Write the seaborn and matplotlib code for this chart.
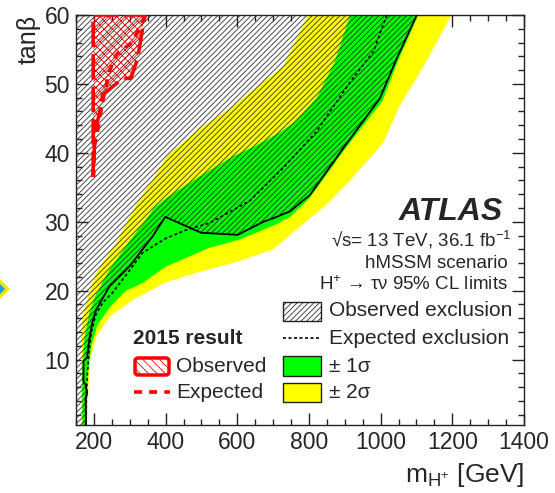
import matplotlib
matplotlib.use('Agg')
import matplotlib.pyplot as plt
from matplotlib.patches import Polygon, Rectangle, FancyBboxPatch
from matplotlib.lines import Line2D
from matplotlib.ticker import MultipleLocator
import seaborn as sns

# Observed exclusion contour (m_H+ [GeV], tanb)
obs_mass = [178, 177, 181, 177, 171, 171, 181, 187, 196, 206, 243, 299, 364, 399,
            499, 601, 673, 700, 747, 803, 896, 998, 1045, 1101]
obs_tanb = [0.5, 4.2, 5.2, 6.3, 6.8, 9.8, 10.3, 12.9, 15.5, 17.2, 20.6, 23.5, 27.9, 30.7,
            28.4, 28.1, 30.0, 30.5, 31.5, 33.9, 40.7, 47.9, 53.7, 60]

# Expected exclusion contour
exp_mass = [177, 179, 182, 186, 193, 205, 225, 252, 300, 336, 401, 457, 522, 634,
            728, 821, 915, 980, 1017]
exp_tanb = [0.5, 5, 8, 11, 14, 16.5, 18.3, 19.7, 23, 25.5, 27.6, 28.8, 29.8, 33,
            37.8, 43.1, 50.3, 54.7, 60]

# +-1 sigma band edges (low-mass edge bottom->top, high-mass edge top->bottom)
green_left_mass = [168, 167, 173, 187, 206, 243, 290, 350, 368, 403, 496, 588, 650, 720, 760, 822, 870, 915]
green_left_tanb = [0.5, 8, 12.9, 16.8, 19.5, 23, 26.5, 30.7, 32, 33.5, 36.6, 39.5, 41, 43, 44.5, 48, 53, 60]
green_right_mass = [1105, 1050, 1005, 900, 800, 750, 708, 606, 522, 401, 336, 290, 243, 210, 193, 183, 179, 178]
green_right_tanb = [60, 53.5, 47.5, 40.5, 33.3, 30.8, 29.6, 27.4, 26.2, 23.5, 21.1, 20, 17.5, 15, 12, 8, 4, 0.5]

# +-2 sigma band edges
yellow_left_mass = [165, 165, 167, 169, 187, 206, 243, 263, 292, 330, 375, 403, 496, 589, 663, 728, 798]
yellow_left_tanb = [0.5, 8, 13, 16.3, 19.7, 22.5, 25.5, 27, 30, 33.5, 37, 39.5, 43.5, 46.8, 49.9, 52.5, 60]
yellow_right_mass = [1198, 1119, 1050, 1008, 915, 850, 775, 700, 600, 500, 400, 310, 245, 208, 189, 184, 182]
yellow_right_tanb = [60, 52.5, 46.5, 41.5, 36, 32.5, 29.3, 26, 24.2, 22.8, 21.2, 18.7, 16.3, 13.4, 10, 5, 0.5]

# 2015 result
red_obs_mass = [198, 198, 342, 322, 303, 280, 224, 215, 206, 201, 199]
red_obs_tanb = [36.5, 60, 60, 53.7, 50.8, 50.8, 48.4, 45.5, 44, 40.7, 36.5]
red_exp_mass = [198, 200, 210, 224, 243, 262, 308, 345]
red_exp_tanb = [36.5, 40.7, 43.1, 47.4, 51.8, 54.2, 56.1, 60]

x_ticks = [200, 400, 600, 800, 1000, 1200, 1400]
y_ticks = [10, 20, 30, 40, 50, 60]

W, H = 555, 493

sns.set_theme(style='ticks')
plt.rcParams['font.family'] = ['Liberation Sans', 'DejaVu Sans']
plt.rcParams['mathtext.fontset'] = 'custom'
plt.rcParams['mathtext.rm'] = 'Liberation Sans'
plt.rcParams['mathtext.it'] = 'Liberation Sans:italic'
plt.rcParams['hatch.linewidth'] = 0.6


def fig_xy(px, py):
    return px / W, 1 - py / H


fig = plt.figure(figsize=(W / 100, H / 100), dpi=100)
ax = fig.add_axes([76 / W, 1 - 425 / H, (524 - 76) / W, (425 - 15) / H])

# bands
ax.fill(yellow_left_mass + yellow_right_mass, yellow_left_tanb + yellow_right_tanb,
        color='#ffff00', lw=0, zorder=1)
ax.fill(green_left_mass + green_right_mass, green_left_tanb + green_right_tanb,
        color='#00ff00', lw=0, zorder=2)

# observed exclusion hatch
ax.fill([150] + obs_mass + [150], [0.5] + obs_tanb + [60],
        facecolor='none', edgecolor='#303030', hatch='//////', lw=0, zorder=3)

sns.lineplot(x=obs_mass, y=obs_tanb, sort=False, estimator=None, color='black',
             linewidth=1.3, ax=ax, zorder=5)
sns.lineplot(x=exp_mass, y=exp_tanb, sort=False, estimator=None, color='black',
             linewidth=1.2, linestyle=(0, (1.8, 1.5)), ax=ax, zorder=5)

# 2015 result
ax.fill(red_obs_mass, red_obs_tanb, facecolor='none', edgecolor='red', hatch='xxxx',
        lw=0, zorder=6)
sns.lineplot(x=red_obs_mass, y=red_obs_tanb, sort=False, estimator=None, color='red',
             linewidth=2.6, linestyle=(0, (7, 2)), ax=ax, zorder=7)
sns.lineplot(x=red_exp_mass, y=red_exp_tanb, sort=False, estimator=None, color='red',
             linewidth=2.6, linestyle=(0, (2.2, 2)), ax=ax, zorder=7)

ax.set_xlim(150, 1400)
ax.set_ylim(0.5, 60)
ax.set_xticks(x_ticks)
ax.set_yticks(y_ticks)
ax.xaxis.set_minor_locator(MultipleLocator(50))
ax.yaxis.set_minor_locator(MultipleLocator(2))
ax.tick_params(which='both', direction='in', top=True, right=True, color='#222222',
               width=1, pad=4.3, labelsize=16.5)
ax.tick_params(which='major', length=8.5)
ax.tick_params(which='minor', length=4.5)
for sp in ax.spines.values():
    sp.set_color('#222222')
    sp.set_linewidth(1)

ax.set_xlabel(r'm$_{\rm H^{+}}$ [GeV]', loc='right', fontsize=19, labelpad=5)
ax.set_ylabel('tanβ', loc='top', fontsize=18, labelpad=3)

# text block
fig.text(*fig_xy(503, 212), 'ATLAS', ha='right', va='center', fontsize=23,
         fontweight='bold', fontstyle='italic')
fig.text(*fig_xy(512, 240), r'√s= 13 TeV, 36.1 fb$^{-1}$', ha='right', va='center', fontsize=13.5)
fig.text(*fig_xy(508, 263), 'hMSSM scenario', ha='right', va='center', fontsize=13.5)
fig.text(*fig_xy(508, 285), r'H$^{+}$ → τν 95% CL limits', ha='right', va='center', fontsize=13.5)


def px_rect(x0, y0, x1, y1, **kw):
    fx0, fy1 = fig_xy(x0, y1)
    return Rectangle((fx0, fy1), (x1 - x0) / W, (y1 - y0) / H, transform=fig.transFigure, **kw)


# right legend
fig.add_artist(px_rect(283, 302, 321, 321, facecolor='white', edgecolor='#303030', hatch='//////', lw=0))
fig.add_artist(px_rect(283, 302, 321, 321, facecolor='none', edgecolor='#222222', lw=1))
fig.add_artist(Line2D([283 / W, 321 / W], [1 - 338 / H] * 2, transform=fig.transFigure,
                      color='black', lw=1.2, linestyle=(0, (1.8, 1.5))))
fig.add_artist(px_rect(283, 356, 321, 376, facecolor='#00ff00', edgecolor='#222222', lw=1))
fig.add_artist(px_rect(283, 383, 321, 402, facecolor='#ffff00', edgecolor='#222222', lw=1))
leg_font = 15
fig.text(*fig_xy(329, 311), 'Observed exclusion', va='center', fontsize=leg_font)
fig.text(*fig_xy(329, 338), 'Expected exclusion', va='center', fontsize=leg_font)
fig.text(*fig_xy(329, 366), '± 1σ', va='center', fontsize=leg_font)
fig.text(*fig_xy(329, 393), '± 2σ', va='center', fontsize=leg_font)

# left legend (2015)
fig.text(*fig_xy(133, 338), '2015 result', va='center', fontsize=leg_font, fontweight='bold')
fx0, fy0 = fig_xy(135, 375)
fig.add_artist(FancyBboxPatch((fx0, fy0), 34 / W, 17 / H, boxstyle='round,pad=0,rounding_size=0.006',
                              transform=fig.transFigure, facecolor='none', edgecolor='red',
                              hatch='\\\\\\\\', lw=2.5))
fig.add_artist(Line2D([134 / W, 170 / W], [1 - 392 / H] * 2, transform=fig.transFigure,
                      color='red', lw=2.6, linestyle=(0, (2.2, 2))))
fig.text(*fig_xy(176, 366), 'Observed', va='center', fontsize=leg_font)
fig.text(*fig_xy(176, 392), 'Expected', va='center', fontsize=leg_font)

# cropped marker at the left edge
cx, cy, r = -8, 289, 15.5
fig.add_artist(Polygon([fig_xy(cx - r, cy), fig_xy(cx, cy - r), fig_xy(cx + r, cy), fig_xy(cx, cy + r)],
                       closed=True, transform=fig.transFigure, facecolor='#1ea0e6',
                       edgecolor='#f5e600', lw=2.5))

fig.savefig('out.png', dpi=100)
plt.close(fig)
